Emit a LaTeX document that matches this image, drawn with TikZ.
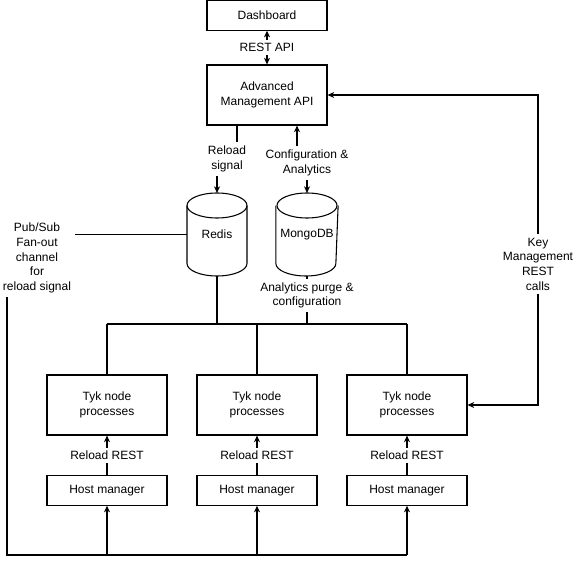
\documentclass[tikz,border=0pt]{standalone}
\usepackage{fontspec}
\setmainfont{Liberation Sans}
\usetikzlibrary{arrows.meta}
\begin{document}
\begin{tikzpicture}[x=0.75pt,y=-0.75pt,line width=0.8pt,
    >={Stealth[length=5pt,width=4.5pt,inset=1.5pt]},
    every node/.style={font=\fontsize{9pt}{11pt}\selectfont},
    box/.style={draw, minimum width=90pt, minimum height=45pt, align=center},
    smallbox/.style={box, minimum height=22pt},
    db/.style={minimum width=45pt, minimum height=62.25pt, outer sep=0pt},
    lbl/.style={fill=white, inner sep=2.5pt, align=center}]
    \useasboundingbox (0,0) rectangle (579,567);
    % dashboard and api
    \node[smallbox] (dash) at (267,15.5) {Dashboard};
    \node[box] (amapi) at (267,95) {Advanced\\Management API};
    \draw[<->] (dash) -- (amapi) node[lbl, midway] {REST API};
    % databases
    \node[db] (redis) at (217,234.5) {Redis};
    \node[db] (mongo) at (307,234.5) {MongoDB};
    \foreach \db in {redis,mongo}{
        \draw ([yshift=-9.375pt]\db.north) ellipse [x radius=30, y radius=12.5];
        \draw ([yshift=-9.375pt]\db.north west) -- ([yshift=9.375pt]\db.south west)
              arc [start angle=180, end angle=0, x radius=30, y radius=12.5]
              -- ([yshift=-9.375pt]\db.north east);
    }
    \node[lbl] (reload) at (227,159) {Reload\\signal};
    \node[lbl] (cfg) at (307,163) {Configuration \&\\Analytics};
    \draw ([xshift=-22.5pt]amapi.south) -- ([xshift=7.5pt]reload.north);
    \draw[->] ([xshift=-7.5pt]reload.south) -- (redis.north);
    \draw[->] ([xshift=-7.5pt]cfg.north) -- ([xshift=22.5pt]amapi.south);
    \draw[->] (cfg.south) -- (mongo.north);
    % tyk nodes
    \foreach \i/\x in {1/107,2/257,3/407}{
        \node[box] (tyk\i) at (\x,405) {Tyk node\\processes};
        \node[smallbox] (host\i) at (\x,490.5) {Host manager};
        \draw[->] (host\i) -- (tyk\i) node[lbl, midway] {Reload REST};
    }
    % bus from the databases
    \coordinate (bus) at (257,324);
    \node[lbl] (apurge) at (307,295.5) {Analytics purge \&\\configuration};
    \draw (mongo.south) -- (apurge.north);
    \draw (apurge.south) -- (apurge.south |- bus);
    \draw (redis.south) -- (redis.south |- bus);
    \draw (bus -| tyk1.north) -- (bus -| tyk3.north);
    \foreach \i in {1,2,3} \draw (bus -| tyk\i.north) -- (tyk\i.north);
    % fan-out channel
    \node[lbl] (pubsub) at (37,258) {Pub/Sub\\Fan-out\\channel\\for\\reload signal};
    \coordinate (fanout) at (7,555);
    \draw (redis.west) -- (redis.west -| pubsub.east);
    \draw (pubsub.south -| fanout) -- (fanout) -- (fanout -| host3.south);
    \foreach \i in {1,2,3} \draw[->] (fanout -| host\i.south) -- (host\i.south);
    % key management
    \node[lbl] (keymgmt) at (538,264) {Key\\Management\\REST\\calls};
    \draw[->] (keymgmt.north) |- (amapi.east);
    \draw[->] (keymgmt.south) |- (tyk3.east);
\end{tikzpicture}
\end{document}
